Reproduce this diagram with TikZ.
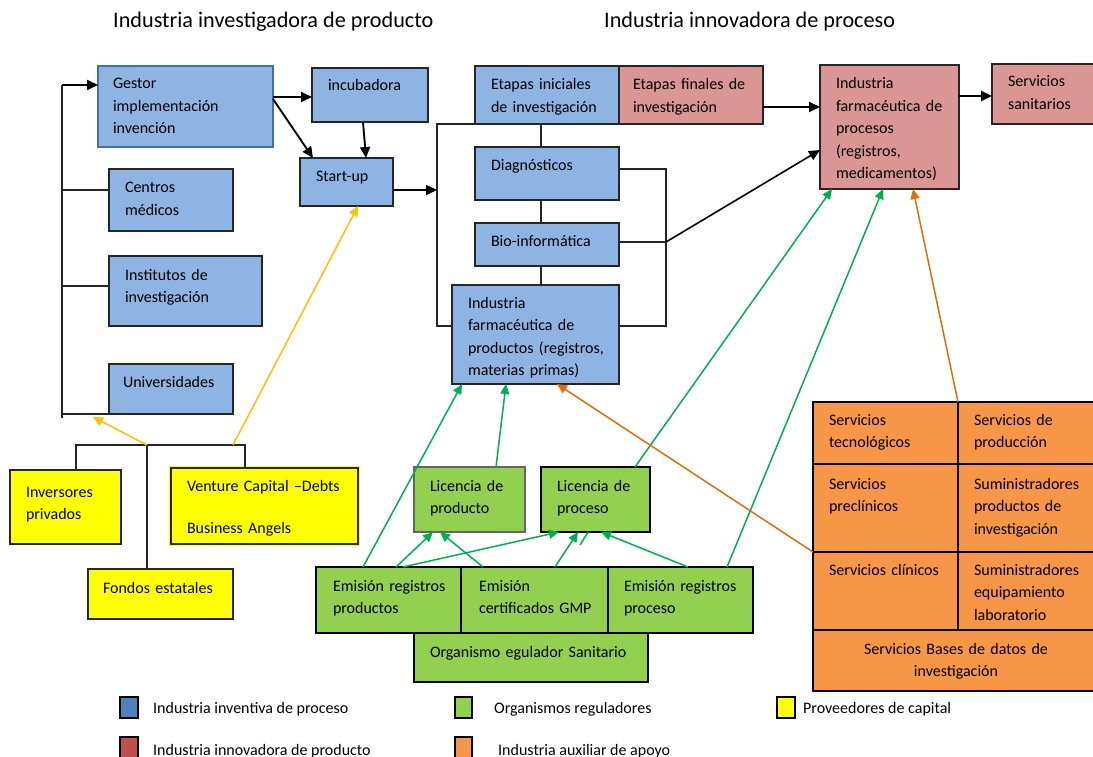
\documentclass[tikz,border=0pt]{standalone}
\usepackage{fontspec}
\setmainfont{Carlito}
\usetikzlibrary{arrows.meta,calc}
\definecolor{bxblue}{HTML}{8EB4E3}
\definecolor{bxpink}{HTML}{D99694}
\definecolor{bxgreen}{HTML}{92D050}
\definecolor{bxorange}{HTML}{F79646}
\definecolor{bxyellow}{HTML}{FFFF00}
\definecolor{gestorborder}{HTML}{41719C}
\definecolor{argreen}{HTML}{00B050}
\definecolor{aryellow}{HTML}{FFC000}
\definecolor{arorange}{HTML}{E36C09}
\definecolor{lgblue}{HTML}{4F81BD}
\definecolor{lgred}{HTML}{C0504D}
\newcommand\mkbox[6]{\node[#2, anchor=north west, minimum width={(#5-#3)*1pt}, minimum height={(#6-#4)*1pt}] (#1) at (#3,#4) {};}
\begin{document}
\begin{tikzpicture}[x=1pt,y=-1pt,
  box/.style={draw=black!85, line width=1.4pt, inner sep=0pt, outer sep=0pt},
  bluebox/.style={box, fill=bxblue},
  pinkbox/.style={box, fill=bxpink},
  greenbox/.style={box, fill=bxgreen},
  thickgreen/.style={box, fill=bxgreen, draw=black, line width=2.2pt},
  orangebox/.style={box, fill=bxorange, draw=black, line width=2pt},
  yellowbox/.style={box, fill=bxyellow},
  legendbox/.style={box, line width=1.2pt, draw=black},
  txt/.style={anchor=base west, inner sep=0pt, outer sep=0pt, text width=260pt, align=left, font=\fontsize{16}{22.5}\selectfont},
  ctxt/.style={anchor=base, inner sep=0pt, outer sep=0pt, text width=280pt, align=center, font=\fontsize{16}{22}\selectfont},
  ttl/.style={anchor=base west, inner sep=0pt, font=\fontsize{22.2}{26}\selectfont},
  lgtxt/.style={anchor=base west, inner sep=0pt, font=\fontsize{16}{19}\selectfont},
  bline/.style={draw=black!85, line width=1.4pt},
  barrow/.style={draw=black, line width=1.9pt, -{Triangle[length=11pt,width=10pt]}},
  garrow/.style={draw=argreen, line width=1.5pt, -{Triangle[length=10pt,width=9pt]}},
  gline/.style={draw=argreen, line width=1.5pt},
  yarrow/.style={draw=aryellow, line width=1.5pt, -{Triangle[length=10pt,width=9pt]}},
  oarrow/.style={draw=arorange, line width=1.5pt, -{Triangle[length=10pt,width=9pt]}}
]
\useasboundingbox (0,0) rectangle (1093,757);

% titles
\node[ttl] (title1) at (113,28) {Industria investigadora de producto};
\node[ttl] (title2) at (604,28) {Industria innovadora de proceso};

% left column boxes
\mkbox{gestor}{bluebox, draw=gestorborder}{98}{66}{273}{147}
\mkbox{incub}{bluebox}{312}{68}{428}{122}
\mkbox{startup}{bluebox}{300}{158}{393}{206}
\mkbox{centros}{bluebox}{109}{169}{233}{231}
\mkbox{institutos}{bluebox}{109}{256}{262}{326}
\mkbox{univ}{bluebox}{109}{364}{233}{414}

% middle column
\mkbox{etini}{bluebox}{475}{66}{619}{124}
\mkbox{etfin}{pinkbox}{619}{66}{763}{124}
\mkbox{diag}{bluebox}{475}{147}{619}{200}
\mkbox{bio}{bluebox}{475}{223}{619}{266}
\mkbox{indprod}{bluebox}{452}{285}{619}{384}

% right
\mkbox{indproc}{pinkbox}{820}{65}{959}{189}
\mkbox{sanit}{pinkbox}{992}{64}{1110}{124}

% capital providers
\mkbox{inversores}{yellowbox}{10}{470}{121}{544}
\mkbox{venture}{yellowbox, preaction={draw=bxyellow, line width=4pt}}{171}{468}{358}{544}
\mkbox{fondos}{yellowbox}{88}{569}{233}{619}

% regulators
\mkbox{licprod}{greenbox, draw=black!60}{414}{467}{525}{532}
\mkbox{licproc}{greenbox, draw=black}{541}{467}{650}{532}
\mkbox{emprod}{thickgreen}{316}{567}{461}{633}
\mkbox{emgmp}{thickgreen}{461}{567}{608}{633}
\mkbox{emproc}{thickgreen}{608}{567}{753}{633}
\mkbox{organismo}{thickgreen}{414}{633}{648}{682}

% auxiliary industry
\mkbox{oa}{orangebox}{813}{402}{958}{464}
\mkbox{ob}{orangebox}{958}{402}{1110}{464}
\mkbox{oc}{orangebox}{813}{464}{958}{552}
\mkbox{od}{orangebox}{958}{464}{1110}{552}
\mkbox{oe}{orangebox}{813}{552}{958}{630}
\mkbox{of}{orangebox}{958}{552}{1110}{630}
\mkbox{og}{orangebox}{813}{630}{1110}{691}

% texts
\node[txt] (t-gestor) at (113,89) {Gestor\\implementación\\invención};
\node[txt] (t-incub) at (328,91) {incubadora};
\node[txt] (t-startup) at (316,182) {Start-up};
\node[txt] (t-centros) at (125,193) {Centros\\médicos};
\node[txt] (t-institutos) at (125,280) {Institutos de\\investigación};
\node[txt] (t-univ) at (123,387) {Universidades};
\node[txt] (t-etini) at (491,90) {Etapas iniciales\\de investigación};
\node[txt] (t-etfin) at (633,90) {Etapas finales de\\investigación};
\node[txt] (t-diag) at (491,171) {Diagnósticos};
\node[txt] (t-bio) at (491,246) {Bio-informática};
\node[txt] (t-indprod) at (468,308) {Industria\\farmacéutica de\\productos (registros,\\materias primas)};
\node[txt] (t-indproc) at (836,89) {Industria\\farmacéutica de\\procesos\\(registros,\\medicamentos)};
\node[txt] (t-sanit) at (1008,87) {Servicios\\sanitarios};
\node[txt] (t-inversores) at (26,497) {Inversores\\privados};
\node[txt] (t-venture) at (187,491) {Venture Capital –Debts\\[19.5pt]Business Angels};
\node[txt] (t-fondos) at (103,593) {Fondos estatales};
\node[txt] (t-licprod) at (430,491) {Licencia de\\producto};
\node[txt] (t-licproc) at (557,491) {Licencia de\\proceso};
\node[txt] (t-emprod) at (333,591) {Emisión registros\\productos};
\node[txt] (t-emgmp) at (479,591) {Emisión\\certificados GMP};
\node[txt] (t-emproc) at (624,591) {Emisión registros\\proceso};
\node[txt] (t-organismo) at (430,657) {Organismo egulador Sanitario};
\node[txt] (t-oa) at (829,425) {Servicios\\tecnológicos};
\node[txt] (t-ob) at (974,425) {Servicios de\\producción};
\node[txt] (t-oc) at (829,489) {Servicios\\preclínicos};
\node[txt] (t-od) at (974,489) {Suministradores\\productos de\\investigación};
\node[txt] (t-oe) at (829,575) {Servicios clínicos};
\node[txt] (t-of) at (974,575) {Suministradores\\equipamiento\\laboratorio};
\node[ctxt] (t-og) at (956,654) {Servicios Bases de datos de\\investigación};

% left bracket
\coordinate (lbtop) at (62,85);
\coordinate (lbbot) at (62,418);
\coordinate (lbarrow) at (93,417);
\draw[bline] (lbtop) -- (lbbot);
\draw[barrow] (lbtop) -- (lbtop -| gestor.west);
\draw[bline] (lbtop |- centros.west) ++(0,-10) -- ([yshift=10pt]centros.west);
\draw[bline] (lbtop |- institutos.west) ++(0,-5) -- ([yshift=5pt]institutos.west);
\draw[bline] (lbtop |- univ.south west) -- (univ.south west);

% top left arrows
\draw[barrow] ([yshift=-31pt]gestor.north east) -- ([yshift=-29pt]incub.north west);
\draw[barrow] ([yshift=-33pt]gestor.north east) -- ([xshift=13pt]startup.north west);
\draw[barrow] ([xshift=51pt]incub.south west) -- ([xshift=66pt]startup.north west);

% middle bracket
\coordinate (mbot) at (437,326);
\coordinate (mjoin) at (437,190);
\draw[bline] (etini.south west) -| (mbot) -- (indprod.west |- mbot);
\draw[barrow] ([yshift=-8pt]startup.east) -- (mjoin);

% vertical chain
\coordinate (vx) at (541,0);
\draw[bline] (etini.south -| vx) -- (diag.north -| vx);
\draw[bline] (diag.south -| vx) -- (bio.north -| vx);
\draw[bline] (bio.south -| vx) -- (indprod.north -| vx);

% right bracket
\coordinate (rbj) at (666,242);
\draw[bline] ([yshift=4.5pt]diag.east) -| (rbj) |- ([yshift=8.5pt]indprod.east);
\draw[bline] ([yshift=2.5pt]bio.east) -- (rbj);
\draw[draw=black, line width=1.6pt, -{Triangle[length=11pt,width=10pt]}] (rbj) -- ([yshift=-85pt]indproc.north west);

% top right arrows
\draw[barrow] ([yshift=-12pt]etfin.east) -- ([yshift=-12pt]etfin.east -| indproc.west);
\draw[barrow] ([yshift=-31pt]indproc.north east) -- ([yshift=-31pt]indproc.north east -| sanit.west);

% capital bracket
\coordinate (yb) at (147,445);
\coordinate (yb2) at (233,445);
\draw[bline] ([xshift=10.5pt]inversores.north) |- (yb) -| ([xshift=-19.5pt]venture.north);
\draw[bline] (yb) -- (yb |- fondos.north);
\draw[yarrow] (yb) -- (lbarrow);
\draw[yarrow] (yb2) -- ([xshift=58pt]startup.south west);

% green arrows
\draw[garrow] ([xshift=47pt]emprod.north west) -- ([xshift=10pt]indprod.south west);
\draw[garrow] ([xshift=82pt]licprod.north west) -- ([xshift=54pt]indprod.south west);
\draw[garrow] ([xshift=94pt]licproc.north west) -- ([xshift=12pt]indproc.south west);
\draw[garrow] ([xshift=119pt]emproc.north west) -- ([xshift=63pt]indproc.south west);
\draw[garrow] ([xshift=80pt]emprod.north west) -- ([xshift=19pt]licprod.south west);
\draw[garrow] ([xshift=22pt]emgmp.north west) -- ([xshift=26pt]licprod.south west);
\draw[garrow] ([xshift=87pt]emprod.north west) -- ([xshift=18pt]licproc.south west);
\draw[garrow] ([xshift=94pt]emgmp.north west) -- ([xshift=37pt]licproc.south west);
\draw[gline] ([xshift=47pt]licproc.south west) -- ++(-8,13);
\draw[garrow] ([xshift=80pt]emproc.north west) -- ([xshift=60pt]licproc.south west);

% orange arrows
\draw[oarrow] (ob.north west) -- ([xshift=93pt]indproc.south west);
\draw[oarrow] (oe.north west) -- ([xshift=105pt]indprod.south west);

% legend
\mkbox{lg1}{legendbox, fill=lgblue}{120}{697}{138}{718}
\mkbox{lg2}{legendbox, fill=lgred}{120}{737}{138}{758}
\mkbox{lg3}{legendbox, fill=bxgreen}{455}{697}{472}{718}
\mkbox{lg4}{legendbox, fill=bxorange}{455}{737}{472}{758}
\mkbox{lg5}{legendbox, fill=bxyellow}{777}{697}{795}{718}
\node[lgtxt] (lt1) at (153,713) {Industria inventiva de proceso};
\node[lgtxt] (lt2) at (153,755) {Industria innovadora de producto};
\node[lgtxt] (lt3) at (494,713) {Organismos reguladores};
\node[lgtxt] (lt4) at (498,755) {Industria auxiliar de apoyo};
\node[lgtxt] (lt5) at (803,713) {Proveedores de capital};
\end{tikzpicture}
\end{document}
